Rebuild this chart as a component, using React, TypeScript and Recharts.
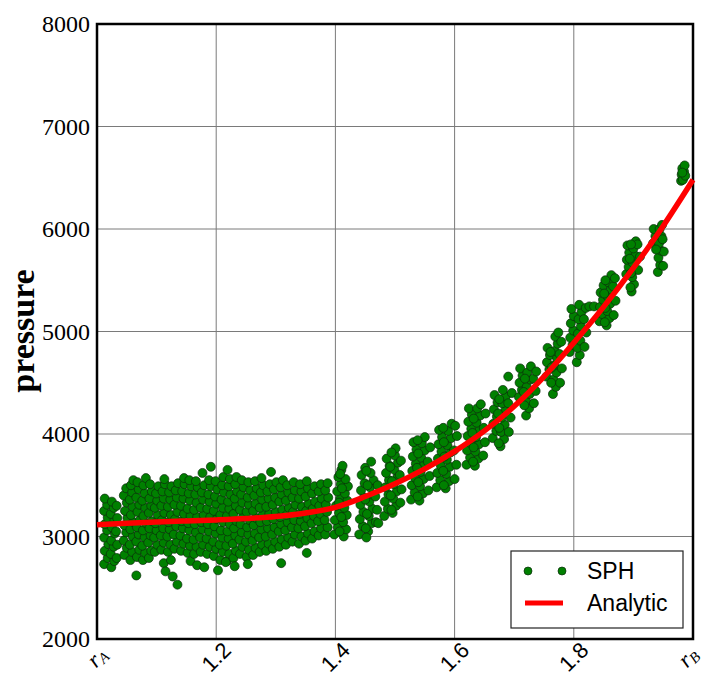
import {
  CartesianGrid,
  ComposedChart,
  ReferenceArea,
  Scatter,
  XAxis,
  YAxis,
} from "recharts";

const WIDTH = 706;
const HEIGHT = 680;

const xTicks = [1.0, 1.2, 1.4, 1.6, 1.8, 2.0];
const yTicks = [2000, 3000, 4000, 5000, 6000, 7000, 8000];

// analytic pressure curve
const rAnalytic = [
  1.0, 1.05, 1.1, 1.15, 1.2, 1.25, 1.3, 1.35, 1.4, 1.45, 1.5, 1.55, 1.6, 1.65,
  1.7, 1.75, 1.8, 1.85, 1.9, 1.95, 2.0,
];
const pAnalytic = [
  3115, 3130, 3142, 3152, 3162, 3175, 3195, 3230, 3285, 3390, 3515, 3660, 3830,
  4030, 4270, 4560, 4890, 5240, 5620, 6030, 6480,
];

// SPH particles, inner band r = 1.0 .. 1.14
const sphBandLeft: [number, number][] = [
  [1.012, 2730], [1.018, 2790], [1.013, 2860], [1.019, 2925], [1.012, 2990], [1.017, 3060], [1.013, 3120], [1.018, 3185], [1.012, 3250], [1.017, 3310], [1.013, 3370],
  [1.024, 2700], [1.029, 2760], [1.023, 2830], [1.028, 2900], [1.024, 2960], [1.03, 3030], [1.025, 3090], [1.029, 3150], [1.023, 3220], [1.028, 3280], [1.025, 3340],
  [1.033, 2790], [1.034, 2920], [1.032, 3050], [1.034, 3180], [1.033, 3300],
  [1.046, 2820], [1.05, 2890], [1.045, 2960], [1.049, 3040], [1.046, 3110], [1.051, 3180], [1.047, 3250], [1.05, 3330], [1.045, 3400], [1.049, 3470],
  [1.056, 2770], [1.059, 2850], [1.055, 2920], [1.06, 3000], [1.056, 3070], [1.061, 3140], [1.057, 3210], [1.06, 3290], [1.055, 3360], [1.059, 3430], [1.057, 3500], [1.061, 3550],
  [1.066, 2620], [1.067, 2800], [1.071, 2870], [1.066, 2950], [1.07, 3020], [1.067, 3090], [1.072, 3160], [1.068, 3240], [1.071, 3310], [1.066, 3380], [1.07, 3460], [1.068, 3530],
  [1.077, 2770], [1.081, 2840], [1.076, 2910], [1.08, 2990], [1.077, 3060], [1.082, 3130], [1.078, 3200], [1.081, 3280], [1.076, 3350], [1.08, 3420], [1.078, 3500], [1.082, 3570],
  [1.087, 2790], [1.091, 2860], [1.086, 2940], [1.09, 3010], [1.088, 3080], [1.092, 3150], [1.087, 3230], [1.091, 3300], [1.088, 3370], [1.092, 3440], [1.089, 3510],
  [1.097, 2850], [1.101, 2920], [1.096, 2990], [1.1, 3060], [1.098, 3130], [1.102, 3210], [1.097, 3280], [1.101, 3350], [1.099, 3420], [1.103, 3490],
  [1.108, 2870], [1.112, 2940], [1.107, 3010], [1.111, 3080], [1.109, 3160], [1.113, 3230], [1.108, 3300], [1.112, 3370], [1.11, 3440], [1.114, 3510], [1.113, 3560], [1.112, 2740], [1.115, 2660],
  [1.119, 2850], [1.123, 2920], [1.118, 3000], [1.122, 3070], [1.12, 3140], [1.124, 3210], [1.119, 3290], [1.123, 3360], [1.121, 3430], [1.125, 3490], [1.124, 2770], [1.127, 2610],
  [1.13, 2880], [1.134, 2950], [1.129, 3020], [1.133, 3100], [1.131, 3170], [1.135, 3240], [1.13, 3310], [1.134, 3380], [1.132, 3450], [1.136, 3520], [1.135, 2530],
];

// r = 1.14 .. 1.26
const sphBandMid: [number, number][] = [
  [1.141, 2860], [1.145, 2930], [1.14, 3010], [1.144, 3080], [1.142, 3150], [1.146, 3220], [1.141, 3300], [1.145, 3370], [1.143, 3440], [1.147, 3510], [1.146, 3570],
  [1.152, 2840], [1.156, 2910], [1.151, 2980], [1.155, 3060], [1.153, 3130], [1.157, 3200], [1.152, 3270], [1.156, 3350], [1.154, 3420], [1.158, 3490], [1.155, 3550], [1.157, 2760],
  [1.163, 2830], [1.167, 2900], [1.162, 2970], [1.166, 3040], [1.164, 3120], [1.168, 3190], [1.163, 3260], [1.167, 3330], [1.165, 3410], [1.169, 3480], [1.166, 3540], [1.168, 2720],
  [1.174, 2850], [1.178, 2920], [1.173, 2990], [1.177, 3070], [1.175, 3140], [1.179, 3210], [1.174, 3280], [1.178, 3360], [1.176, 3430], [1.18, 3500], [1.177, 3620], [1.18, 2700],
  [1.185, 2830], [1.189, 2900], [1.184, 2980], [1.188, 3050], [1.186, 3120], [1.19, 3190], [1.185, 3270], [1.189, 3340], [1.187, 3410], [1.191, 3490], [1.188, 3550], [1.191, 3680],
  [1.196, 2810], [1.2, 2880], [1.195, 2950], [1.199, 3030], [1.197, 3100], [1.201, 3170], [1.196, 3250], [1.2, 3320], [1.198, 3390], [1.202, 3460], [1.199, 3540], [1.203, 2670],
  [1.207, 2770], [1.211, 2850], [1.206, 2920], [1.21, 2990], [1.208, 3060], [1.212, 3140], [1.207, 3210], [1.211, 3280], [1.209, 3360], [1.213, 3430], [1.21, 3500], [1.212, 3580],
  [1.218, 2760], [1.222, 2830], [1.217, 2910], [1.221, 2980], [1.219, 3050], [1.223, 3120], [1.218, 3200], [1.222, 3270], [1.22, 3340], [1.224, 3410], [1.221, 3490], [1.223, 3560], [1.219, 3650], [1.216, 2750],
  [1.229, 2790], [1.233, 2860], [1.228, 2930], [1.232, 3010], [1.23, 3080], [1.234, 3150], [1.229, 3220], [1.233, 3300], [1.231, 3370], [1.235, 3440], [1.232, 3510], [1.234, 3580], [1.231, 2710],
  [1.24, 2830], [1.244, 2900], [1.239, 2970], [1.243, 3040], [1.241, 3120], [1.245, 3190], [1.24, 3260], [1.244, 3330], [1.242, 3410], [1.246, 3480], [1.243, 3550],
  [1.251, 2800], [1.255, 2870], [1.25, 2950], [1.254, 3020], [1.252, 3090], [1.256, 3160], [1.251, 3240], [1.255, 3310], [1.253, 3380], [1.257, 3450], [1.254, 3530], [1.253, 2730],
];

// r = 1.26 .. 1.39
const sphBandRight: [number, number][] = [
  [1.262, 2820], [1.266, 2890], [1.261, 2960], [1.265, 3030], [1.263, 3110], [1.267, 3180], [1.262, 3250], [1.266, 3320], [1.264, 3400], [1.268, 3470], [1.265, 3540],
  [1.273, 2850], [1.277, 2920], [1.272, 2990], [1.276, 3070], [1.274, 3140], [1.278, 3210], [1.273, 3280], [1.277, 3360], [1.275, 3430], [1.279, 3500], [1.276, 3570],
  [1.284, 2860], [1.288, 2930], [1.283, 3000], [1.287, 3080], [1.285, 3150], [1.289, 3220], [1.284, 3290], [1.288, 3370], [1.286, 3440], [1.29, 3510], [1.292, 3630],
  [1.295, 2880], [1.299, 2950], [1.294, 3020], [1.298, 3090], [1.296, 3170], [1.3, 3240], [1.295, 3310], [1.299, 3380], [1.297, 3460], [1.301, 3530],
  [1.306, 2900], [1.31, 2970], [1.305, 3050], [1.309, 3120], [1.307, 3190], [1.311, 3260], [1.306, 3340], [1.31, 3410], [1.308, 3480], [1.312, 3550], [1.309, 2740],
  [1.317, 2920], [1.321, 2990], [1.316, 3060], [1.32, 3140], [1.318, 3210], [1.322, 3280], [1.317, 3350], [1.321, 3430], [1.319, 3500],
  [1.328, 2950], [1.332, 3020], [1.327, 3090], [1.331, 3160], [1.329, 3240], [1.333, 3310], [1.328, 3380], [1.332, 3450], [1.33, 3530],
  [1.339, 2930], [1.343, 3000], [1.338, 3080], [1.342, 3150], [1.34, 3220], [1.344, 3290], [1.339, 3370], [1.343, 3440], [1.341, 3510],
  [1.35, 2960], [1.354, 3030], [1.349, 3100], [1.353, 3180], [1.351, 3250], [1.355, 3320], [1.35, 3390], [1.354, 3470], [1.352, 3540], [1.352, 2840],
  [1.361, 2980], [1.365, 3050], [1.36, 3130], [1.364, 3200], [1.362, 3270], [1.366, 3340], [1.361, 3420], [1.365, 3490],
  [1.372, 3010], [1.376, 3080], [1.371, 3150], [1.375, 3220], [1.373, 3300], [1.377, 3370], [1.372, 3440], [1.376, 3510],
  [1.383, 3020], [1.387, 3090], [1.382, 3160], [1.386, 3240], [1.384, 3310], [1.388, 3380], [1.383, 3450], [1.387, 3520],
];

// ring columns r = 1.39 .. 1.61
const sphRampLow: [number, number][] = [
  [1.398, 3020], [1.404, 3090], [1.399, 3160], [1.406, 3230], [1.401, 3300], [1.408, 3370], [1.403, 3440], [1.409, 3510], [1.405, 3580], [1.41, 3650],
  [1.414, 3000], [1.418, 3070], [1.413, 3140], [1.419, 3210], [1.415, 3280], [1.42, 3350], [1.416, 3420], [1.421, 3490], [1.417, 3560], [1.412, 3690],
  [1.407, 3050], [1.41, 3190], [1.406, 3330], [1.411, 3470], [1.408, 3610],
  [1.44, 3020], [1.446, 3100], [1.441, 3170], [1.447, 3240], [1.442, 3310], [1.448, 3380], [1.443, 3450], [1.449, 3520], [1.444, 3600], [1.45, 3670],
  [1.455, 3050], [1.461, 3130], [1.456, 3200], [1.462, 3270], [1.457, 3340], [1.463, 3410], [1.458, 3480], [1.464, 3550], [1.459, 3620], [1.46, 3730],
  [1.468, 3140], [1.47, 3260], [1.467, 3390], [1.471, 3500], [1.452, 2990], [1.472, 3130],
  [1.451, 3080], [1.453, 3220], [1.45, 3360], [1.454, 3500], [1.452, 3640],
  [1.482, 3200], [1.488, 3270], [1.483, 3340], [1.489, 3410], [1.484, 3480], [1.49, 3550], [1.485, 3620], [1.491, 3690], [1.486, 3760],
  [1.496, 3230], [1.502, 3300], [1.497, 3370], [1.503, 3440], [1.498, 3510], [1.504, 3580], [1.499, 3650], [1.505, 3720], [1.5, 3790], [1.501, 3860],
  [1.509, 3330], [1.511, 3460], [1.508, 3600], [1.51, 3740],
  [1.494, 3260], [1.493, 3400], [1.495, 3540], [1.492, 3680], [1.494, 3820],
  [1.527, 3360], [1.533, 3430], [1.528, 3500], [1.534, 3570], [1.529, 3640], [1.535, 3710], [1.53, 3780], [1.536, 3850], [1.531, 3920],
  [1.541, 3350], [1.547, 3420], [1.542, 3490], [1.548, 3560], [1.543, 3630], [1.549, 3700], [1.544, 3770], [1.55, 3840], [1.545, 3910], [1.55, 3970],
  [1.556, 3450], [1.558, 3590], [1.555, 3730], [1.559, 3870],
  [1.538, 3390], [1.539, 3530], [1.537, 3670], [1.539, 3810], [1.538, 3940],
  [1.57, 3480], [1.576, 3550], [1.571, 3620], [1.577, 3690], [1.572, 3760], [1.578, 3830], [1.573, 3900], [1.579, 3970], [1.574, 4040],
  [1.585, 3470], [1.591, 3540], [1.586, 3610], [1.592, 3680], [1.587, 3750], [1.593, 3820], [1.588, 3890], [1.594, 3960], [1.589, 4030], [1.595, 4100],
  [1.6, 3560], [1.603, 3700], [1.599, 3840], [1.604, 3980], [1.601, 4080],
  [1.582, 3500], [1.581, 3640], [1.583, 3780], [1.582, 3920], [1.581, 4060],
];

// ring columns r = 1.61 .. 2.0
const sphRampHigh: [number, number][] = [
  [1.62, 3700], [1.626, 3770], [1.621, 3840], [1.627, 3910], [1.622, 3980], [1.628, 4050], [1.623, 4120], [1.629, 4190], [1.624, 4250],
  [1.634, 3690], [1.64, 3760], [1.635, 3830], [1.641, 3900], [1.636, 3970], [1.642, 4040], [1.637, 4110], [1.643, 4180], [1.638, 4250], [1.644, 4290],
  [1.648, 3790], [1.651, 3920], [1.649, 4060], [1.652, 4200],
  [1.631, 3730], [1.632, 3870], [1.63, 4010], [1.632, 4150],
  [1.664, 3960], [1.67, 4030], [1.665, 4100], [1.671, 4170], [1.666, 4240], [1.672, 4310], [1.667, 4380],
  [1.677, 3880], [1.683, 3950], [1.678, 4020], [1.684, 4090], [1.679, 4160], [1.685, 4230], [1.68, 4300], [1.686, 4370], [1.681, 4430],
  [1.691, 4020], [1.694, 4160], [1.69, 4300], [1.696, 4400], [1.69, 4560],
  [1.674, 3910], [1.675, 4060], [1.673, 4200], [1.675, 4340],
  [1.708, 4360], [1.713, 4430], [1.709, 4500], [1.714, 4570], [1.71, 4640],
  [1.72, 4180], [1.725, 4250], [1.72, 4320], [1.726, 4390], [1.721, 4460], [1.727, 4530], [1.722, 4600], [1.728, 4660],
  [1.733, 4300], [1.736, 4420], [1.732, 4540], [1.737, 4610],
  [1.717, 4280], [1.716, 4410], [1.718, 4540],
  [1.754, 4560], [1.759, 4630], [1.755, 4700], [1.76, 4770], [1.756, 4840],
  [1.765, 4390], [1.77, 4460], [1.766, 4530], [1.771, 4600], [1.767, 4670], [1.772, 4740], [1.768, 4810], [1.773, 4880], [1.769, 4950],
  [1.777, 4500], [1.78, 4640], [1.776, 4780], [1.779, 4900], [1.774, 4990],
  [1.762, 4500], [1.763, 4650], [1.761, 4800],
  [1.793, 4800], [1.798, 4870], [1.794, 4940], [1.799, 5010], [1.795, 5080], [1.8, 5150], [1.796, 5220],
  [1.805, 4700], [1.81, 4770], [1.806, 4840], [1.811, 4910], [1.807, 4980], [1.812, 5050], [1.808, 5120], [1.813, 5190], [1.809, 5260],
  [1.818, 4850], [1.821, 4990], [1.817, 5120], [1.82, 5230], [1.826, 5245], [1.834, 5245],
  [1.843, 5100], [1.848, 5170], [1.844, 5240], [1.849, 5310], [1.845, 5380], [1.85, 5450],
  [1.855, 5060], [1.86, 5130], [1.856, 5200], [1.861, 5270], [1.857, 5340], [1.862, 5410], [1.858, 5480], [1.863, 5550],
  [1.867, 5160], [1.87, 5300], [1.866, 5440], [1.869, 5520],
  [1.852, 5090], [1.853, 5230], [1.851, 5370], [1.853, 5500],
  [1.888, 5560], [1.892, 5630], [1.889, 5700], [1.893, 5770], [1.89, 5840],
  [1.897, 5390], [1.901, 5460], [1.898, 5530], [1.902, 5600], [1.899, 5670], [1.903, 5740], [1.9, 5810], [1.904, 5880],
  [1.908, 5600], [1.911, 5730], [1.907, 5850],
  [1.895, 5430], [1.896, 5570], [1.894, 5710], [1.896, 5850],
  [1.933, 5860], [1.937, 5930], [1.934, 6000],
  [1.941, 5580], [1.945, 5650], [1.942, 5720], [1.946, 5790], [1.943, 5860], [1.947, 5930], [1.944, 6000], [1.948, 6040],
  [1.95, 5640], [1.951, 5780], [1.949, 5900], [1.938, 5800],
  [1.98, 6470], [1.984, 6500], [1.981, 6530], [1.985, 6560], [1.982, 6590], [1.986, 6620], [1.983, 6480], [1.987, 6520], [1.982, 6550],
];

const sphData = [
  ...sphBandLeft,
  ...sphBandMid,
  ...sphBandRight,
  ...sphRampLow,
  ...sphRampHigh,
].map(([x, y]) => ({ x, y }));

const analyticData = rAnalytic.map((x, i) => ({ x, y: pAnalytic[i] }));

const SERIF = "'Liberation Serif', 'DejaVu Serif', serif";
const SANS = "'Liberation Sans', Arial, sans-serif";

function SphDot({ cx, cy }: any) {
  if (cx == null || cy == null) return null;
  return <circle cx={cx} cy={cy} r={4.5} fill="#008000" stroke="#0b2a0b" strokeWidth={0.7} />;
}

function NoDot() {
  return <g />;
}

function XTick({ x, payload }: any) {
  const v = payload.value;
  if (v === 1 || v === 2) {
    // r_B sits against the page edge, nudge it inside
    const cx = v === 2 ? x - 5 : x;
    const cy = 657;
    return (
      <text
        x={cx}
        y={cy}
        transform={`rotate(-45, ${cx}, ${cy})`}
        textAnchor="middle"
        dominantBaseline="central"
        fontFamily={SERIF}
        fontStyle="italic"
        fontSize={23}
        fill="#000"
      >
        r
        <tspan fontSize={15} dy={5}>
          {v === 1 ? "A" : "B"}
        </tspan>
      </text>
    );
  }
  const cy = 657;
  return (
    <text
      x={x}
      y={cy}
      transform={`rotate(-45, ${x}, ${cy})`}
      textAnchor="middle"
      dominantBaseline="central"
      fontFamily={SANS}
      fontSize={22}
      fill="#000"
    >
      {v.toFixed(1)}
    </text>
  );
}

function YTick({ y, payload }: any) {
  return (
    <text x={90} y={y} textAnchor="end" dominantBaseline="central" fontFamily={SERIF} fontSize={24} fill="#000">
      {payload.value}
    </text>
  );
}

function Legend() {
  return (
    <svg width={174} height={79} style={{ position: "absolute", left: 510, top: 550 }}>
      <rect x={1} y={1} width={172} height={77} fill="#fff" stroke="#222" strokeWidth={1.2} />
      <circle cx={18} cy={21} r={4} fill="#008000" stroke="#0b2a0b" strokeWidth={0.7} />
      <circle cx={52} cy={21} r={4} fill="#008000" stroke="#0b2a0b" strokeWidth={0.7} />
      <text x={77} y={21} dominantBaseline="central" fontFamily={SANS} fontSize={23}>
        SPH
      </text>
      <line x1={15} y1={53} x2={53} y2={53} stroke="#ff0000" strokeWidth={5} />
      <text x={77} y={53} dominantBaseline="central" fontFamily={SANS} fontSize={23}>
        Analytic
      </text>
    </svg>
  );
}

export default function App() {
  return (
    <div style={{ position: "relative", width: WIDTH, height: HEIGHT, background: "#fff" }}>
      <style>{"body{margin:0}"}</style>
      <ComposedChart width={WIDTH} height={HEIGHT} margin={{ top: 24, right: 13, bottom: 0, left: 0 }}>
        <CartesianGrid stroke="#7a7a7a" strokeWidth={1} />
        <XAxis
          type="number"
          dataKey="x"
          domain={[1, 2]}
          ticks={xTicks}
          height={41}
          axisLine={false}
          tickLine={false}
          tick={<XTick />}
          interval={0}
        />
        <YAxis
          type="number"
          dataKey="y"
          domain={[2000, 8000]}
          ticks={yTicks}
          width={97}
          axisLine={false}
          tickLine={false}
          tick={<YTick />}
          interval={0}
          label={() => (
            <text
              x={22}
              y={331}
              transform="rotate(-90, 22, 331)"
              textAnchor="middle"
              dominantBaseline="central"
              fontFamily={SERIF}
              fontWeight="bold"
              fontSize={34}
              fill="#000"
            >
              pressure
            </text>
          )}
        />
        <Scatter data={sphData} dataKey="y" shape={<SphDot />} isAnimationActive={false} />
        <Scatter
          data={analyticData}
          dataKey="y"
          shape={<NoDot />}
          line={{ stroke: "#ff0000", strokeWidth: 5.5 }}
          lineType="joint"
          lineJointType="monotoneX"
          isAnimationActive={false}
        />
        <ReferenceArea x1={1} x2={2} y1={2000} y2={8000} fill="none" stroke="#000" strokeWidth={2.5} ifOverflow="visible" />
      </ComposedChart>
      <Legend />
    </div>
  );
}
